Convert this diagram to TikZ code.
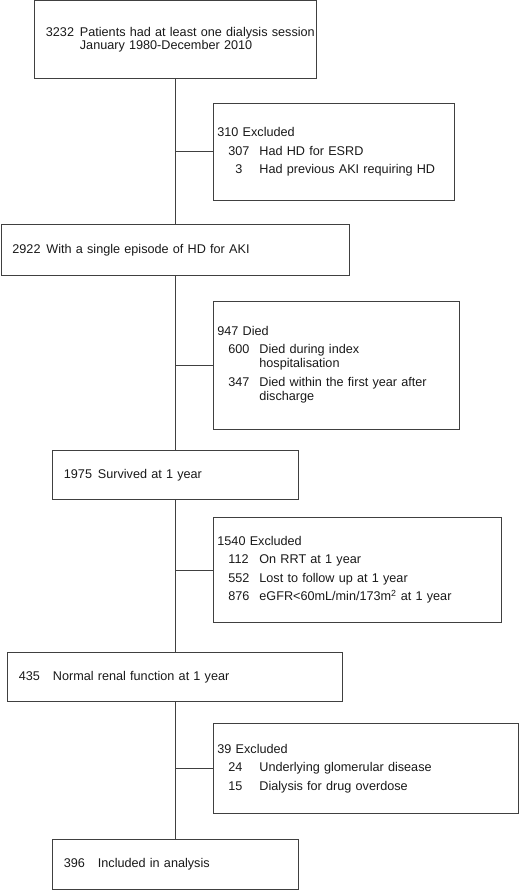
\documentclass[tikz,border=0pt]{standalone}
\usepackage{fontspec}
\setmainfont{Liberation Sans}
\usepackage{tikz}

\newcommand{\numcol}[1]{\makebox[34pt][l]{#1}}
\newcommand{\subrow}[2]{\hspace*{11pt}\makebox[31pt][l]{#1}#2}
\newcommand{\twolines}[2]{\begin{tabular}[t]{@{}l@{}}#1\\#2\end{tabular}}

\begin{document}
\begin{tikzpicture}[x=1pt,y=-1pt,
    every node/.style={font=\fontsize{12.65}{13.5}\selectfont, text=black!90},
    mainbox/.style={draw=black!75, line width=0.8pt, anchor=north west, align=left, inner xsep=11.5pt, inner ysep=0pt},
    sidebox/.style={draw=black!75, line width=0.8pt, anchor=north west, align=left, inner xsep=4pt, inner ysep=0pt},
    link/.style={draw=black!75, line width=0.8pt}]
    \useasboundingbox (0,0) rectangle (520,890);

    \node[mainbox, text width=259pt, minimum height=78pt] (all) at (34,0.5)
        {\mbox{\numcol{3232}Patients had at least one dialysis session}\\\numcol{}January 1980-December 2010};
    \node[sidebox, text width=233pt, minimum height=97pt] (excone) at (213,103)
        {310 Excluded\\[5pt]\subrow{307}{Had HD for ESRD}\\[5pt]\subrow{\hphantom{0}3}{Had previous AKI requiring HD}};
    \node[mainbox, text width=325.5pt, minimum height=51pt] (hd) at (0.5,224)
        {\numcol{2922}With a single episode of HD for AKI};
    \node[sidebox, text width=238pt, minimum height=128pt] (died) at (213,301)
        {947 Died\\[5pt]\subrow{600}{\twolines{Died during index}{hospitalisation}}\\[5pt]\subrow{347}{\twolines{Died within the first year after}{discharge}}};
    \node[mainbox, text width=223pt, minimum height=49pt] (alive) at (52,450)
        {\numcol{1975}Survived at 1 year};
    \node[sidebox, text width=280pt, minimum height=105pt] (exctwo) at (213,517)
        {1540 Excluded\\[5pt]\subrow{112}{On RRT at 1 year}\\[5pt]\subrow{552}{Lost to follow up at 1 year}\\[5pt]\subrow{876}{eGFR<60mL/min/173m\textsuperscript{2} at 1 year}};
    \node[mainbox, text width=312pt, minimum height=49pt] (normal) at (7,652)
        {\numcol{435}Normal renal function at 1 year};
    \node[sidebox, text width=297pt, minimum height=90pt] (excthree) at (213,723)
        {39 Excluded\\[5pt]\subrow{24}{Underlying glomerular disease}\\[5pt]\subrow{15}{Dialysis for drug overdose}};
    \node[mainbox, text width=223pt, minimum height=50pt] (final) at (52,839)
        {\numcol{396}Included in analysis};

    % main line
    \foreach \a/\b in {all/hd, hd/alive, alive/normal, normal/final}
        \draw[link] (\a.south) -- (\a.south |- \b.north);
    % exclusions
    \foreach \a/\s in {all/excone, hd/died, alive/exctwo, normal/excthree}
        \draw[link] (\s.west) -- (\s.west -| \a.south);
\end{tikzpicture}
\end{document}
